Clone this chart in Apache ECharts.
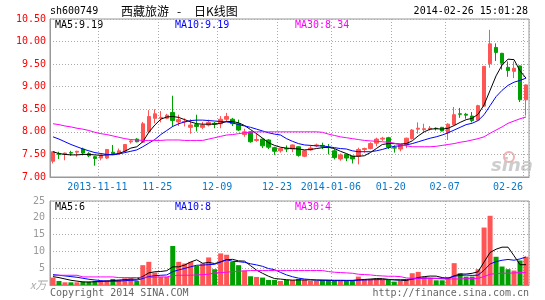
<!DOCTYPE html>
<html><head><meta charset="utf-8">
<script src="https://cdn.jsdelivr.net/npm/echarts@6/dist/echarts.min.js"></script>
<style>html,body{margin:0;padding:0;background:#fff}#c{width:545px;height:300px}</style>
</head><body><div id="c"></div>
<script>
const dates = ['2013-10-30','2013-10-31','2013-11-01','2013-11-04','2013-11-05','2013-11-06','2013-11-07','2013-11-08',
'2013-11-11','2013-11-12','2013-11-13','2013-11-14','2013-11-15','2013-11-18','2013-11-19','2013-11-20','2013-11-21','2013-11-22',
'2013-11-25','2013-11-26','2013-11-27','2013-11-28','2013-11-29','2013-12-02','2013-12-03','2013-12-04','2013-12-05','2013-12-06',
'2013-12-09','2013-12-10','2013-12-11','2013-12-12','2013-12-13','2013-12-16','2013-12-17','2013-12-18','2013-12-19','2013-12-20',
'2013-12-23','2013-12-24','2013-12-25','2013-12-26','2013-12-27','2013-12-30','2013-12-31','2014-01-02','2014-01-03',
'2014-01-06','2014-01-07','2014-01-08','2014-01-09','2014-01-10','2014-01-13','2014-01-14','2014-01-15','2014-01-16','2014-01-17',
'2014-01-20','2014-01-21','2014-01-22','2014-01-23','2014-01-24','2014-01-27','2014-01-28','2014-01-29','2014-01-30',
'2014-02-07','2014-02-10','2014-02-11','2014-02-12','2014-02-13','2014-02-14','2014-02-17','2014-02-18','2014-02-19','2014-02-20','2014-02-21',
'2014-02-24','2014-02-25','2014-02-26'];

const opens = [7.35,7.52,7.50,7.54,7.55,7.62,7.52,7.45,7.42,7.42,
7.55,7.52,7.57,7.78,7.84,7.77,8.00,8.30,8.30,8.30,
8.43,8.22,8.22,8.10,8.16,8.10,8.15,8.19,8.18,8.28,
8.28,8.18,7.94,8.00,7.81,7.84,7.82,7.65,7.58,7.63,
7.62,7.67,7.46,7.60,7.69,7.70,7.66,7.58,7.40,7.50,
7.46,7.46,7.61,7.63,7.75,7.84,7.87,7.65,7.62,7.72,
7.85,8.06,8.05,8.06,8.08,8.10,7.98,8.16,8.40,8.39,
8.35,8.26,8.57,9.51,9.87,9.74,9.43,9.34,9.46,8.71];
const closes = [7.56,7.50,7.53,7.53,7.57,7.53,7.47,7.41,7.48,7.61,
7.52,7.58,7.72,7.80,7.78,8.18,8.34,8.40,8.32,8.37,
8.25,8.27,8.23,8.15,8.12,8.15,8.21,8.17,8.28,8.34,
8.18,8.04,8.00,7.78,7.83,7.69,7.66,7.57,7.63,7.62,
7.71,7.48,7.58,7.64,7.71,7.68,7.65,7.43,7.49,7.42,
7.40,7.61,7.63,7.74,7.84,7.86,7.66,7.64,7.72,7.86,
8.04,8.08,8.07,8.08,8.07,8.02,8.17,8.38,8.39,8.37,
8.25,8.58,9.45,9.95,9.76,9.52,9.36,9.41,8.71,9.04];
const lows = [7.30,7.40,7.37,7.47,7.45,7.48,7.44,7.25,7.37,7.40,
7.50,7.50,7.55,7.74,7.77,7.77,7.97,8.19,8.21,8.28,
8.11,8.13,8.12,7.96,8.01,8.06,8.12,8.08,8.08,8.22,
8.13,8.02,7.89,7.76,7.78,7.64,7.62,7.49,7.54,7.55,
7.55,7.45,7.44,7.58,7.66,7.62,7.50,7.39,7.36,7.35,
7.30,7.28,7.54,7.61,7.68,7.80,7.62,7.54,7.57,7.64,
7.83,7.96,7.99,8.03,8.03,8.01,7.82,8.15,8.31,8.29,
8.21,8.25,8.55,9.42,9.57,9.38,9.22,9.19,8.66,8.36];
const highs = [7.57,7.56,7.54,7.58,7.58,7.65,7.55,7.47,7.50,7.62,
7.71,7.63,7.73,7.82,7.86,8.22,8.48,8.50,8.46,8.40,
8.80,8.38,8.30,8.28,8.38,8.22,8.27,8.22,8.35,8.42,
8.31,8.27,8.07,8.01,7.97,7.85,7.84,7.67,7.65,7.70,
7.72,7.68,7.59,7.71,7.74,7.76,7.73,7.62,7.52,7.51,
7.47,7.65,7.65,7.77,7.87,7.89,7.89,7.70,7.73,7.87,
8.06,8.21,8.18,8.13,8.10,8.11,8.19,8.55,8.53,8.42,
8.44,8.60,9.46,10.26,9.96,9.75,9.56,9.56,9.47,9.05];

const ma5 = [7.56,7.52,7.50,7.49,7.49,7.50,7.50,7.49,7.48,7.49,
7.50,7.52,7.57,7.64,7.67,7.78,7.99,8.15,8.28,8.33,
8.34,8.32,8.27,8.22,8.18,8.17,8.17,8.17,8.19,8.23,
8.23,8.20,8.14,8.05,7.96,7.86,7.76,7.70,7.66,7.64,
7.63,7.62,7.60,7.61,7.63,7.65,7.66,7.63,7.57,7.52,
7.46,7.46,7.47,7.54,7.63,7.72,7.74,7.74,7.73,7.74,
7.80,7.91,8.00,8.06,8.07,8.06,8.08,8.14,8.21,8.27,
8.30,8.39,8.60,8.92,9.24,9.48,9.61,9.60,9.35,9.19];
const ma10 = [7.89,7.84,7.78,7.72,7.67,7.62,7.58,7.54,7.52,7.50,
7.49,7.51,7.54,7.57,7.60,7.67,7.75,7.83,7.94,8.03,
8.12,8.18,8.22,8.25,8.26,8.26,8.25,8.24,8.23,8.22,
8.20,8.16,8.13,8.10,8.06,8.02,7.98,7.95,7.93,7.85,
7.79,7.74,7.71,7.70,7.69,7.69,7.67,7.65,7.63,7.62,
7.58,7.56,7.56,7.56,7.58,7.61,7.65,7.68,7.69,7.71,
7.74,7.78,7.82,7.86,7.89,7.93,7.98,8.04,8.10,8.16,
8.19,8.25,8.38,8.58,8.78,8.92,9.03,9.10,9.14,9.19];
const ma30 = [8.18,8.16,8.13,8.11,8.08,8.06,8.03,7.99,7.96,7.94,
7.91,7.88,7.85,7.83,7.82,7.81,7.81,7.81,7.81,7.82,
7.82,7.82,7.81,7.81,7.81,7.81,7.84,7.87,7.90,7.93,
7.94,7.96,7.98,7.99,8.00,8.00,8.00,8.00,8.00,8.00,
8.00,8.00,8.00,8.00,8.00,7.99,7.95,7.92,7.89,7.87,
7.85,7.83,7.81,7.80,7.79,7.78,7.77,7.75,7.71,7.69,
7.67,7.67,7.67,7.67,7.68,7.70,7.72,7.74,7.77,7.79,
7.82,7.85,7.89,7.97,8.04,8.11,8.19,8.24,8.29,8.33];

const volumes = [2.2,1.2,0.8,0.8,0.8,1.0,1.0,1.2,1.2,1.4,
1.8,1.6,2.0,2.0,1.2,5.9,6.9,3.7,2.4,2.4,
11.6,6.9,6.4,6.9,5.7,6.4,8.2,4.7,9.4,9.0,
6.9,5.9,4.3,2.6,2.4,2.2,1.5,1.5,1.2,1.5,
1.5,1.8,1.5,1.2,1.2,1.5,1.5,1.2,1.2,1.2,
1.5,2.5,1.8,1.8,1.8,1.5,1.5,1.0,1.2,1.5,
3.5,3.9,2.4,2.0,1.4,1.4,2.4,6.5,3.5,2.5,
2.5,4.7,17.1,20.6,8.4,5.5,4.7,4.3,7.3,8.4];
const volMa5 = [2.5,2.2,1.8,1.4,1.16,0.92,0.88,0.96,1.04,1.16,
1.32,1.44,1.6,1.76,1.72,2.54,3.6,3.94,4.02,4.26,
5.4,5.4,5.94,6.84,7.5,6.46,6.72,6.38,6.88,7.54,
7.64,7.18,7.1,5.74,4.42,3.48,2.6,1.92,1.76,1.58,
1.44,1.5,1.5,1.5,1.44,1.44,1.38,1.32,1.32,1.32,
1.32,1.52,1.64,1.76,1.92,1.88,1.68,1.52,1.4,1.34,
1.74,2.22,2.5,2.66,2.64,2.22,1.92,2.74,3.24,3.26,
3.48,3.94,6.86,9.68,10.66,11.26,11.26,8.7,6.04,6.04];
const volMa10 = [3.1,2.9,2.7,2.5,2.3,2.0,1.7,1.5,1.3,1.16,
1.12,1.16,1.28,1.40,1.44,1.93,2.52,2.77,2.89,2.99,
3.97,4.50,4.94,5.43,5.88,5.93,6.06,6.16,6.86,7.52,
7.05,6.95,6.74,6.31,5.98,5.56,4.89,4.57,3.75,3.00,
2.46,2.05,1.77,1.63,1.51,1.44,1.44,1.41,1.41,1.38,
1.38,1.45,1.48,1.54,1.60,1.60,1.60,1.58,1.58,1.61,
1.81,1.95,2.01,2.03,1.99,1.98,2.07,2.62,2.85,2.95,
2.85,2.93,4.40,6.26,6.96,7.37,7.60,7.38,7.76,8.35];
const volMa30 = [2.9,2.9,2.9,2.9,2.9,2.4,2.4,2.4,2.4,2.4,
2.4,2.2,2.2,2.2,2.2,2.3,2.3,2.3,2.4,2.4,
2.8,2.9,2.9,2.9,3.0,3.1,3.2,3.6,3.7,3.8,
4.0,4.1,4.2,4.3,4.3,4.3,4.3,4.3,4.3,4.3,
4.3,4.3,4.3,4.3,4.3,4.3,4.0,3.8,3.7,3.6,
3.5,3.2,3.1,3.0,2.8,2.7,2.6,2.6,2.5,2.1,
2.0,2.0,2.0,2.0,1.9,1.8,1.8,1.8,1.8,1.9,
1.9,2.0,2.5,3.2,3.4,3.5,3.5,3.6,3.7,3.7];

const tickIdx = [8,18,28,38,47,57,66,79];
const tickLabels = ['2013-11-11','11-25','12-09','12-23','2014-01-06','01-20','02-07','02-26'];

const UP = '#ff5555', DOWN = '#00a000';
const MONO = '"DejaVu Sans Mono", monospace';
const GRID_LINE = {show:true, lineStyle:{color:'#aaaaaa', type:[1,2], width:1}};
const isTick = (i) => tickIdx.indexOf(i) >= 0;

const chart = echarts.init(document.getElementById('c'), null, {renderer:'canvas'});
const candleData = dates.map((d,i)=>[opens[i], closes[i], lows[i], highs[i]]);
const volData = volumes.map((v,i)=>({value:v, itemStyle:{color: closes[i] >= opens[i] ? UP : DOWN}}));

const lab = {fontFamily: MONO, fontSize: 10, color: '#0a78c8'};
chart.setOption({
  animation:false,
  backgroundColor:'#ffffff',
  grid:[
    {left:50, right:16, top:19, height:158, show:true, borderColor:'#999999', borderWidth:1},
    {left:50, right:16, top:201, height:84, show:true, borderColor:'#999999', borderWidth:1}
  ],
  xAxis:[
    {type:'category', gridIndex:0, data:dates, boundaryGap:true,
     axisLine:{lineStyle:{color:'#999999'}}, axisTick:{show:false},
     splitLine:Object.assign({interval:(i)=>isTick(i)}, GRID_LINE),
     axisLabel:{interval:(i)=>isTick(i), margin:5,
       formatter:(v,i)=>{const k=tickIdx.indexOf(i); const t=k>=0?tickLabels[k]:''; return i===79?'{b|'+t+'}':'{a|'+t+'}';},
       rich:{a:Object.assign({padding:[0,7,0,0]},lab), b:Object.assign({padding:[0,36,0,0]},lab)}}},
    {type:'category', gridIndex:1, data:dates, boundaryGap:true,
     axisLine:{lineStyle:{color:'#999999'}}, axisTick:{show:false}, axisLabel:{show:false},
     splitLine:Object.assign({interval:(i)=>isTick(i)}, GRID_LINE)}
  ],
  yAxis:[
    {type:'value', gridIndex:0, min:7, max:10.5, interval:0.5, scale:true,
     axisLine:{show:true, lineStyle:{color:'#999999'}}, axisTick:{show:false},
     axisLabel:{fontFamily:MONO, fontSize:10, color:'#ff0000', margin:4, formatter:(v)=>v.toFixed(2)},
     splitLine:GRID_LINE},
    {type:'value', gridIndex:1, min:0, max:25, interval:5,
     axisLine:{show:true, lineStyle:{color:'#999999'}}, axisTick:{show:false},
     axisLabel:{fontFamily:MONO, fontSize:10, color:'#999999', margin:5, formatter:(v)=>v===0?'':String(v)},
     splitLine:GRID_LINE}
  ],
  series:[
    {type:'candlestick', xAxisIndex:0, yAxisIndex:0, data:candleData, barWidth:4,
     itemStyle:{color:UP, color0:DOWN, borderColor:UP, borderColor0:DOWN, borderWidth:1}},
    {type:'line', xAxisIndex:0, yAxisIndex:0, data:ma5, symbol:'none', lineStyle:{color:'#000000', width:1}},
    {type:'line', xAxisIndex:0, yAxisIndex:0, data:ma10, symbol:'none', lineStyle:{color:'#0000ff', width:1}},
    {type:'line', xAxisIndex:0, yAxisIndex:0, data:ma30, symbol:'none', lineStyle:{color:'#ff00ff', width:1}},
    {type:'bar', xAxisIndex:1, yAxisIndex:1, data:volData, barWidth:5},
    {type:'line', xAxisIndex:1, yAxisIndex:1, data:volMa5, symbol:'none', lineStyle:{color:'#000000', width:1}},
    {type:'line', xAxisIndex:1, yAxisIndex:1, data:volMa10, symbol:'none', lineStyle:{color:'#0000ff', width:1}},
    {type:'line', xAxisIndex:1, yAxisIndex:1, data:volMa30, symbol:'none', lineStyle:{color:'#ff00ff', width:1}}
  ],
  graphic:[
    {type:'text', x:50, y:11, style:{text:'sh600749', fill:'#000', font:'10px '+MONO, textVerticalAlign:'middle'}},
    {type:'text', x:121, y:11, style:{text:'西藏旅游', fill:'#000', font:'12px "Noto Sans CJK SC"', textVerticalAlign:'middle'}},
    {type:'text', x:177, y:11, style:{text:'-', fill:'#000', font:'12px "Noto Sans CJK SC"', textVerticalAlign:'middle'}},
    {type:'text', x:194, y:11, style:{text:'日K线图', fill:'#000', font:'12px "Noto Sans CJK SC"', textVerticalAlign:'middle'}},
    {type:'text', x:528, y:11, style:{text:'2014-02-26 15:01:28', fill:'#000', font:'10px '+MONO, textAlign:'right', textVerticalAlign:'middle'}},
    {type:'text', x:55, y:25, style:{text:'MA5:9.19', fill:'#000', font:'10px '+MONO, textVerticalAlign:'middle'}},
    {type:'text', x:175, y:25, style:{text:'MA10:9.19', fill:'#0000ff', font:'10px '+MONO, textVerticalAlign:'middle'}},
    {type:'text', x:295, y:25, style:{text:'MA30:8.34', fill:'#ff00ff', font:'10px '+MONO, textVerticalAlign:'middle'}},
    {type:'text', x:55, y:207, style:{text:'MA5:6', fill:'#000', font:'10px '+MONO, textVerticalAlign:'middle'}},
    {type:'text', x:175, y:207, style:{text:'MA10:8', fill:'#0000ff', font:'10px '+MONO, textVerticalAlign:'middle'}},
    {type:'text', x:295, y:207, style:{text:'MA30:4', fill:'#ff00ff', font:'10px '+MONO, textVerticalAlign:'middle'}},
    {type:'text', x:30, y:285, style:{text:'x万', fill:'#aaaaaa', font:'italic 11px "Noto Sans CJK SC"', textVerticalAlign:'middle'}},
    {type:'text', x:50, y:293, style:{text:'Copyright 2014 SINA.COM', fill:'#666666', font:'10px '+MONO, textVerticalAlign:'middle'}},
    {type:'text', x:529, y:293, style:{text:'http://finance.sina.com.cn', fill:'#666666', font:'10px '+MONO, textAlign:'right', textVerticalAlign:'middle'}},
    {type:'circle', shape:{cx:509, cy:157, r:5}, style:{fill:'none', stroke:'#f2b0b0', lineWidth:2}, silent:true},
    {type:'text', x:512, y:166, style:{text:'sina', fill:'#c4c4c4', font:'italic bold 18px "DejaVu Sans"', textAlign:'center', textVerticalAlign:'middle', opacity:0.85}, silent:true}
  ]
});
</script>
</body></html>
